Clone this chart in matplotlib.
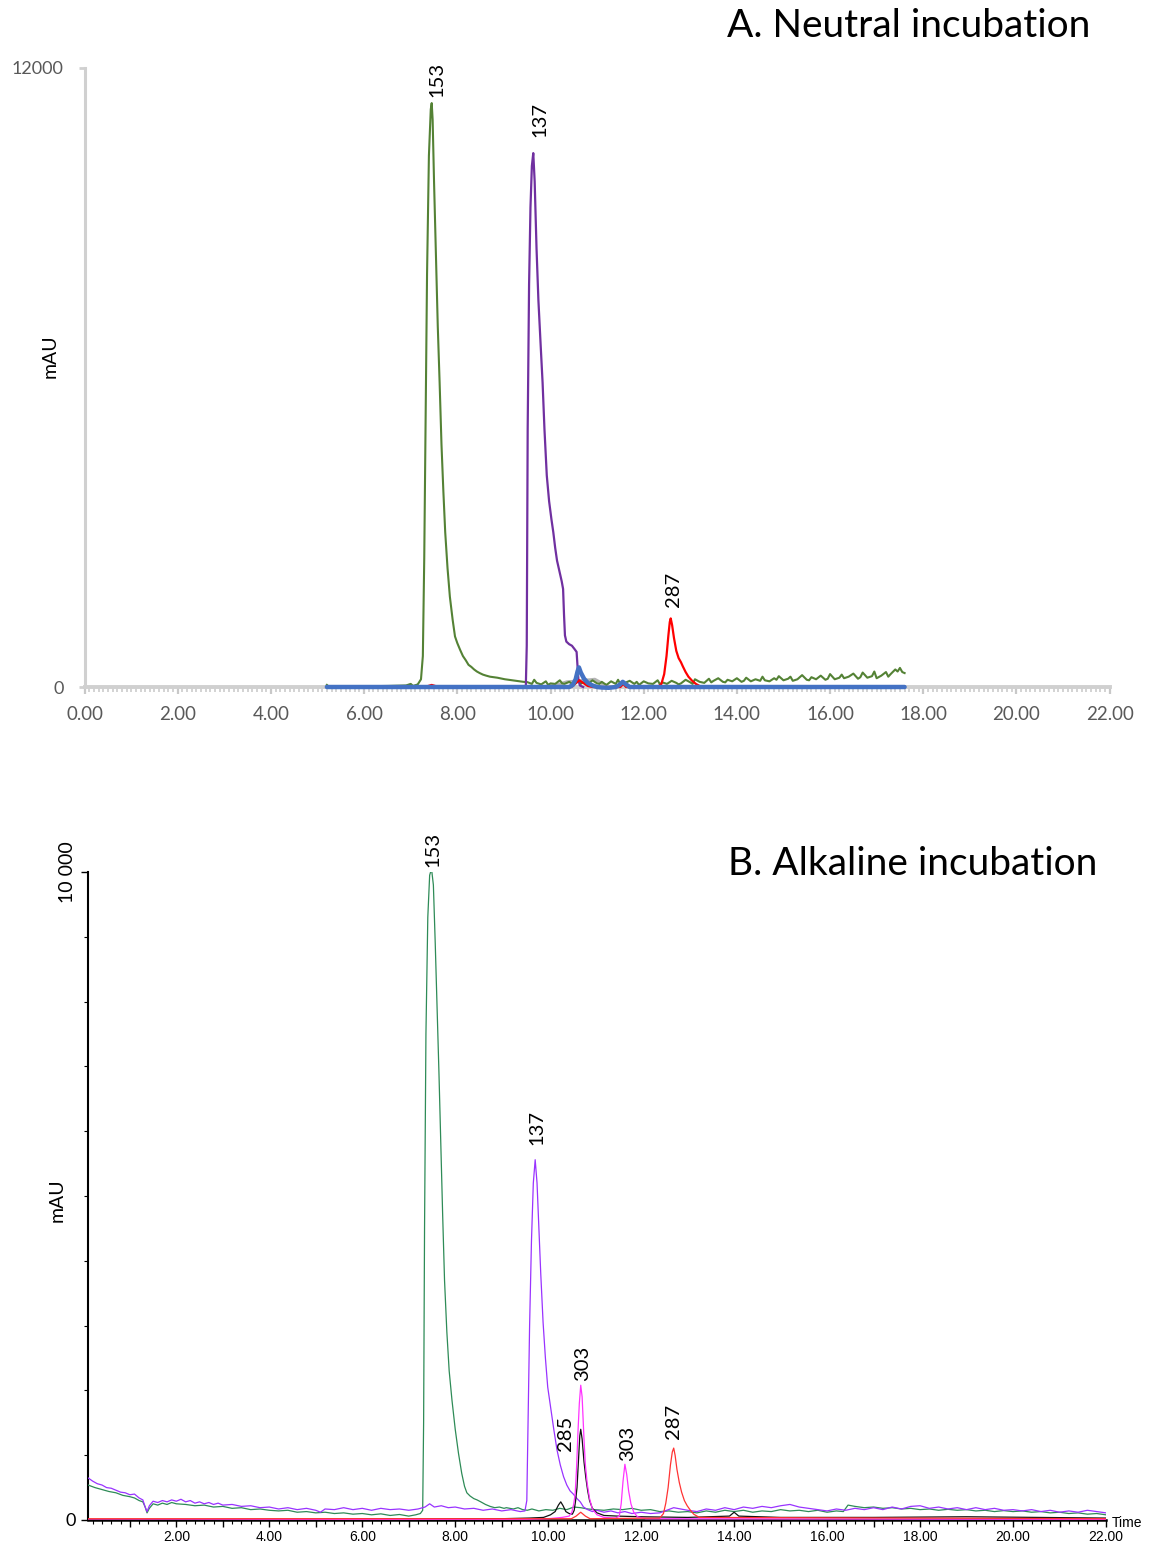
import numpy as np
import matplotlib
matplotlib.use("Agg")
import matplotlib.pyplot as plt
from matplotlib.ticker import MultipleLocator, FixedLocator, FuncFormatter

# ---------------- Panel A: neutral incubation ----------------
a_green_t = [5.20, 5.25, 5.6, 6.0, 6.5, 6.9, 7.0, 7.05, 7.15, 7.22, 7.26, 7.29, 7.32, 7.35, 7.39, 7.43, 7.45,
             7.47, 7.50, 7.54, 7.58, 7.62, 7.66, 7.70, 7.74, 7.79, 7.84, 7.90, 7.95, 8.00, 8.06, 8.12, 8.18,
             8.24, 8.30, 8.36, 8.42, 8.48, 8.55, 8.62, 8.70, 8.78, 8.86, 8.94, 9.02, 9.10, 9.18, 9.26, 9.34,
             9.42, 9.50,
             9.6, 9.65, 9.7, 9.8, 9.9, 9.95, 10.0, 10.1, 10.2, 10.25, 10.3, 10.4, 10.5, 10.6, 10.65, 10.7, 10.8,
             10.9, 11.0, 11.05, 11.1, 11.2, 11.3, 11.4, 11.45, 11.5, 11.6, 11.7, 11.8, 11.85, 11.9, 12.0, 12.1,
             12.2, 12.3, 12.35, 12.4, 12.5, 12.6, 12.7, 12.75, 12.8, 12.9, 13.0, 13.05, 13.1, 13.2, 13.3, 13.4,
             13.45, 13.5, 13.6, 13.7, 13.75, 13.8, 13.9, 14.0, 14.1, 14.15, 14.2, 14.3, 14.4, 14.5, 14.55, 14.6,
             14.7, 14.8, 14.85, 14.9, 15.0, 15.1, 15.15, 15.2, 15.3, 15.4, 15.5, 15.55, 15.6, 15.7, 15.8, 15.9,
             15.95, 16.0, 16.1, 16.2, 16.25, 16.3, 16.4, 16.5, 16.6, 16.65, 16.7, 16.8, 16.9, 16.95, 17.0, 17.1,
             17.2, 17.25, 17.3, 17.4, 17.45, 17.5, 17.55, 17.6]
a_green_v = [40, 0, 10, 15, 20, 30, 60, 20, 50, 150, 600, 2500, 5200, 8000, 10300, 11200, 11320,
             11000, 9800, 8400, 7000, 5900, 4700, 3800, 3000, 2300, 1750, 1300, 980, 850, 720, 600, 520,
             430, 390, 340, 300, 270, 240, 220, 200, 190, 180, 165, 150, 140, 130, 120, 110,
             100, 95,
             60, 140, 80, 50, 110, 40, 70, 60, 130, 70, 60, 100, 40, 120, 60, 90, 50,
             130, 70, 60, 100, 40, 110, 60, 140, 50, 80, 120, 60, 100, 40, 110, 70,
             60, 130, 50, 90, 60, 120, 80, 50, 70, 140, 90, 60, 150, 100, 80, 160,
             90, 120, 170, 100, 90, 140, 110, 170, 100, 120, 180, 110, 150, 120, 200, 130,
             110, 170, 140, 210, 130, 160, 200, 120, 150, 230, 140, 130, 190, 150, 220, 140,
             160, 250, 150, 180, 240, 170, 200, 260, 160, 190, 280, 180, 210, 300, 170, 220,
             290, 200, 250, 340, 300, 370, 290, 270]

a_purple_t = [9.40, 9.47, 9.49, 9.51, 9.54, 9.57, 9.60, 9.63, 9.66, 9.70, 9.74, 9.79, 9.83, 9.87, 9.92,
              9.97, 10.02, 10.06, 10.10, 10.14, 10.19, 10.24, 10.27, 10.29, 10.31, 10.34, 10.40, 10.46,
              10.52, 10.56, 10.58, 10.60, 10.63, 10.70]
a_purple_v = [0, 10, 800, 5000, 7800, 9300, 10100, 10350, 9800, 8500, 7500, 6600, 5900, 5000, 4100,
              3600, 3250, 3000, 2700, 2450, 2250, 2050, 1900, 1400, 1000, 880, 830, 800,
              730, 680, 400, 130, 30, 0]

a_gray_t = [5.2, 9.8, 10.0, 10.2, 10.35, 10.5, 10.7, 10.85, 10.95, 11.05, 11.15, 11.3, 17.6]
a_gray_v = [0, 0, 20, 60, 100, 110, 130, 140, 150, 100, 40, 0, 0]

a_red_t = [5.2, 7.30, 7.45, 7.60, 10.45, 10.55, 10.62, 10.70, 10.80, 10.90, 11.50, 11.56, 11.62, 12.30,
           12.38, 12.44, 12.49, 12.53, 12.56, 12.58, 12.61, 12.65, 12.70, 12.75, 12.80, 12.84, 12.90,
           12.96, 13.04, 13.12, 13.20, 13.30, 17.6]
a_red_v = [0, 0, 40, 0, 0, 80, 130, 80, 20, 0, 0, 60, 0, 0,
           60, 250, 600, 1000, 1260, 1330, 1200, 950, 700, 560, 480, 400, 290,
           200, 120, 60, 20, 0, 0]

a_blue_t = [5.2, 10.40, 10.48, 10.54, 10.58, 10.61, 10.65, 10.72, 10.80, 10.90, 11.00, 11.10, 11.25,
            11.40, 11.48, 11.55, 11.62, 11.70, 17.6]
a_blue_v = [0, 0, 40, 150, 300, 380, 280, 160, 80, 30, 0, -10, -15, 0, 40, 100, 50, 0, 0]

a_xticks = [0, 2, 4, 6, 8, 10, 12, 14, 16, 18, 20, 22]
a_yticks = [0, 12000]
a_labels = ["153", "137", "287"]
a_label_t = [7.56, 9.77, 12.63]
a_label_v = [11770, 11010, 1900]

# ---------------- Panel B: alkaline incubation ----------------
b_green_t = [0.10, 0.25, 0.4, 0.55, 0.7, 0.85, 1.0, 1.1, 1.2, 1.28, 1.33, 1.37, 1.42, 1.5, 1.6, 1.7, 1.8,
             1.9, 2.0, 2.2, 2.4, 2.6, 2.8, 3.0, 3.2, 3.4, 3.6, 3.8, 4.0, 4.2, 4.4, 4.6, 4.8, 5.0, 5.2, 5.4,
             5.6, 5.8, 6.0, 6.2, 6.4, 6.6, 6.8, 7.0, 7.15, 7.25, 7.30, 7.32, 7.34, 7.37, 7.41, 7.45, 7.49,
             7.53, 7.57, 7.61, 7.65, 7.69, 7.73, 7.77, 7.82, 7.87, 7.93, 8.00, 8.07, 8.14, 8.20, 8.25, 8.32,
             8.40, 8.47, 8.55, 8.65, 8.75, 8.85, 8.95, 9.05, 9.10, 9.25, 9.35, 9.45, 9.55, 9.65, 9.8, 9.95,
             10.1, 10.25, 10.4, 10.55, 10.7, 10.85, 11.0, 11.2, 11.4, 11.6, 11.8, 12.0, 12.2, 12.4, 12.6,
             12.8, 13.0, 13.2, 13.4, 13.6, 13.8, 14.0, 14.2, 14.4, 14.6, 14.8, 15.0, 15.2, 15.4, 15.6, 15.8,
             16.0, 16.2, 16.35, 16.45, 16.6, 16.8, 17.0, 17.2, 17.4, 17.6, 17.8, 18.0, 18.2, 18.4, 18.6,
             18.8, 19.0, 19.2, 19.4, 19.6, 19.8, 20.0, 20.2, 20.4, 20.6, 20.8, 21.0, 21.2, 21.4, 21.6, 21.8,
             22.0]
b_green_v = [540, 500, 470, 440, 420, 380, 360, 340, 300, 280, 200, 110, 180, 250, 230, 260, 240,
             270, 250, 240, 220, 230, 200, 210, 180, 190, 160, 170, 150, 140, 150, 120, 130, 110, 120, 100,
             110, 90, 100, 80, 95, 70, 85, 60, 80, 100, 150, 1500, 4500, 7500, 9300, 9950, 10050,
             9800, 8900, 7900, 6900, 5800, 4700, 3700, 2900, 2300, 1850, 1400, 1030, 720, 520, 420, 370,
             330, 310, 280, 240, 210, 190, 200, 180, 190, 170, 190, 160, 150, 170, 140, 160,
             150, 180, 160, 200, 190, 170, 160, 150, 170, 160, 180, 150, 160, 130, 140,
             120, 130, 110, 140, 120, 150, 130, 150, 120, 140, 130, 160, 140, 150, 130, 150,
             120, 140, 130, 230, 210, 190, 200, 180, 190, 170, 180, 160, 170, 150, 165,
             150, 160, 140, 150, 130, 145, 130, 140, 120, 130, 110, 120, 100, 110, 90, 100,
             80]

b_purple_t = [0.10, 0.2, 0.3, 0.4, 0.5, 0.6, 0.7, 0.8, 0.9, 1.0, 1.1, 1.2, 1.28, 1.33, 1.37, 1.42, 1.5, 1.6,
              1.7, 1.8, 1.9, 2.0, 2.1, 2.2, 2.3, 2.4, 2.5, 2.6, 2.7, 2.8, 2.9, 3.0, 3.2, 3.4, 3.6, 3.8, 4.0,
              4.2, 4.4, 4.6, 4.8, 5.0, 5.1, 5.2, 5.4, 5.6, 5.8, 6.0, 6.2, 6.4, 6.6, 6.8, 7.0, 7.2, 7.35, 7.45,
              7.55, 7.7, 7.85, 8.0, 8.2, 8.4, 8.6, 8.8, 9.0, 9.2, 9.4, 9.5, 9.54, 9.57, 9.60, 9.64, 9.68, 9.72,
              9.76, 9.80, 9.84, 9.89, 9.94, 9.99, 10.05, 10.12, 10.19, 10.26, 10.33, 10.40, 10.47, 10.54,
              10.62, 10.69, 10.76, 10.85, 10.95, 11.05, 11.2, 11.35, 11.5, 11.65, 11.8, 12.0, 12.2, 12.4,
              12.55, 12.7, 12.85, 13.0, 13.2, 13.4, 13.6, 13.8, 14.0, 14.2, 14.4, 14.6, 14.8, 15.0, 15.2,
              15.4, 15.6, 15.8, 16.0, 16.2, 16.4, 16.6, 16.8, 17.0, 17.2, 17.4, 17.6, 17.8, 18.0, 18.2, 18.4,
              18.6, 18.8, 19.0, 19.2, 19.4, 19.6, 19.8, 20.0, 20.2, 20.4, 20.6, 20.8, 21.0, 21.2, 21.4, 21.6,
              21.8, 22.0]
b_purple_v = [650, 600, 560, 540, 500, 490, 460, 430, 420, 390, 400, 340, 310, 200, 130, 220, 290, 270,
              300, 280, 310, 290, 320, 280, 300, 260, 280, 250, 270, 240, 260, 230, 240, 210, 220, 190, 200,
              170, 190, 160, 180, 150, 120, 170, 160, 190, 160, 180, 150, 180, 160, 170, 150, 170, 200, 250,
              200, 220, 190, 200, 170, 180, 150, 170, 140, 160, 130, 140, 300, 1600, 3000, 4300, 5200, 5560,
              5200, 4500, 3800, 3050, 2500, 2050, 1750, 1400, 1080, 850, 670, 540, 450, 400,
              330, 280, 200, 160, 130, 150, 120, 140, 110, 130, 100, 120, 100, 110,
              150, 190, 170, 150, 130, 170, 150, 190, 160, 200, 180, 210, 190, 220, 240,
              200, 180, 160, 140, 170, 150, 180, 160, 190, 160, 200, 170, 210, 220, 180, 200,
              170, 190, 160, 190, 160, 180, 150, 160, 140, 160, 130, 150, 120, 140, 120, 150,
              130, 110]

b_black_t = [0.1, 9.0, 9.6, 9.9, 10.05, 10.15, 10.22, 10.27, 10.32, 10.38, 10.45, 10.52, 10.56, 10.59,
             10.62, 10.65, 10.68, 10.70, 10.73, 10.77, 10.81, 10.85, 10.89, 10.95, 11.05, 11.2, 11.5, 12.0,
             13.0, 13.9, 14.0, 14.1, 15.0, 17.0, 19.0, 20.5, 22.0]
b_black_v = [0, 20, 30, 40, 80, 130, 230, 280, 220, 130, 100, 90, 150, 300,
             500, 900, 1300, 1400, 1250, 900, 650, 450, 300, 180, 110, 70, 60, 50,
             40, 60, 120, 60, 40, 40, 50, 40, 30]

b_magenta_t = [0.1, 9.5, 10.0, 10.3, 10.45, 10.51, 10.55, 10.58, 10.61, 10.64, 10.67, 10.70, 10.73, 10.77,
               10.80, 10.84, 10.89, 10.95, 11.05, 11.2, 11.45, 11.53, 11.57, 11.61, 11.65, 11.69, 11.73,
               11.78, 11.84, 11.92, 12.1, 22.0]
b_magenta_v = [0, 10, 20, 40, 60, 120, 250, 400, 800, 1350, 1800, 2080, 1900, 1250,
               850, 560, 330, 170, 80, 40, 30, 60, 250, 600, 860, 700, 450,
               250, 120, 50, 20, 10]

b_red_t = [0.1, 10.5, 10.6, 10.7, 10.8, 10.9, 12.40, 12.48, 12.53, 12.58, 12.63, 12.67, 12.70, 12.73,
           12.77, 12.82, 12.87, 12.93, 12.99, 13.06, 13.13, 13.25, 22.0]
b_red_v = [20, 20, 60, 120, 60, 20, 30, 100, 260, 500, 850, 1050, 1110, 1000,
           780, 580, 430, 300, 220, 150, 90, 40, 20]

b_yticks = [0, 10000]
b_ytick_labels = ["0", "10 000"]
b_labels = ["153", "137", "303", "285", "303", "287"]
b_label_t = [7.51, 9.76, 10.73, 10.37, 11.70, 12.69]
b_label_v = [10354, 6064, 2423, 1342, 1188, 1528]

# ---------------- figure ----------------
W, H = 1155, 1542
fig = plt.figure(figsize=(W / 100, H / 100), dpi=100)
base_font = ["Lato", "DejaVu Sans"]
plt.rcParams["font.family"] = base_font

# Panel A
axA = fig.add_axes([84.6 / W, 1 - 687 / H, (1109.6 - 84.6) / W, (687 - 68) / H])
axA.plot(a_gray_t, a_gray_v, color="#b4b4b4", lw=2.2, zorder=2, clip_on=False)
axA.plot(a_green_t, a_green_v, color="#548235", lw=1.5, zorder=3, clip_on=False)
axA.plot(a_purple_t, a_purple_v, color="#7030A0", lw=1.6, zorder=3, clip_on=False)
axA.plot(a_red_t, a_red_v, color="#FF0000", lw=1.6, zorder=4, clip_on=False)
axA.plot(a_blue_t, a_blue_v, color="#4472C4", lw=3.2, zorder=5, solid_capstyle="round", clip_on=False)
axA.set_xlim(0, 22)
axA.set_ylim(0, 12000)
for s in ["top", "right"]:
    axA.spines[s].set_visible(False)
axA.spines["left"].set_color("#d0d0d0")
axA.spines["left"].set_linewidth(2.2)
axA.spines["bottom"].set_color("#d0d0d0")
axA.spines["bottom"].set_linewidth(2.8)
axA.set_xticks(a_xticks)
axA.xaxis.set_major_formatter(FuncFormatter(lambda v, p: "%.2f" % v))
axA.xaxis.set_minor_locator(MultipleLocator(0.1))
axA.set_yticks(a_yticks)
axA.tick_params(axis="x", which="major", length=5, width=1.6, color="#c8c8c8", pad=9,
                labelsize=13.5, labelcolor="#595959")
axA.tick_params(axis="x", which="minor", length=3.5, width=1.1, color="#c8c8c8")
axA.tick_params(axis="y", which="major", length=4, width=2, color="#d0d0d0", pad=11,
                labelsize=13, labelcolor="#595959")
for lab, t, v in zip(a_labels, a_label_t, a_label_v):
    axA.text(t, v, lab, rotation=90, ha="center", va="center", fontsize=14.5, color="black")
fig.text(1090 / W, 1 - 26 / H, "A. Neutral incubation", ha="right", va="center", fontsize=28)
fig.text(50 / W, 1 - 356 / H, "mAU", rotation=90, ha="center", va="center", fontsize=14)

# Panel B
axB = fig.add_axes([88 / W, 1 - 1520 / H, (1106 - 88) / W, (1520 - 872) / H])
axB.plot(b_green_t, b_green_v, color="#2E8B57", lw=0.9, zorder=3)
axB.plot(b_purple_t, b_purple_v, color="#9933FF", lw=0.9, zorder=3)
axB.plot(b_black_t, b_black_v, color="#111111", lw=0.9, zorder=4)
axB.plot(b_magenta_t, b_magenta_v, color="#FF33FF", lw=0.9, zorder=5)
axB.plot(b_red_t, b_red_v, color="#FF3333", lw=0.9, zorder=5)
axB.set_xlim(0.1, 22)
axB.set_ylim(0, 10000)
for s in ["top", "right"]:
    axB.spines[s].set_visible(False)
axB.spines["left"].set_linewidth(1.5)
axB.spines["bottom"].set_linewidth(1.8)
axB.xaxis.set_major_locator(FixedLocator(list(range(1, 23))))
axB.xaxis.set_major_formatter(FuncFormatter(lambda v, p: ("%.2f" % v) if int(round(v)) % 2 == 0 else ""))
axB.xaxis.set_minor_locator(MultipleLocator(0.2))
axB.tick_params(axis="x", which="major", length=5, width=1, pad=2, labelsize=10)
axB.tick_params(axis="x", which="minor", length=3, width=0.8)
for lab in axB.get_xticklabels():
    lab.set_family(["Liberation Sans Narrow", "Liberation Sans", "DejaVu Sans"])
axB.set_yticks(b_yticks)
axB.set_yticklabels(b_ytick_labels)
axB.yaxis.set_minor_locator(MultipleLocator(1000))
axB.tick_params(axis="y", which="major", length=5, width=1, pad=4, labelsize=13)
axB.tick_params(axis="y", which="minor", length=3, width=0.8)
ylabs = axB.get_yticklabels()
ylabs[1].set_rotation(90)
ylabs[1].set_fontsize(14)
ylabs[1].set_va("center")
for lab, t, v in zip(b_labels, b_label_t, b_label_v):
    axB.text(t, v, lab, rotation=90, ha="center", va="center", fontsize=14.5, color="black")
fig.text(1097 / W, 1 - 864 / H, "B. Alkaline incubation", ha="right", va="center", fontsize=28)
fig.text(57 / W, 1 - 1200 / H, "mAU", rotation=90, ha="center", va="center", fontsize=14)
fig.text(1112 / W, 1 - 1523 / H, "Time", ha="left", va="center", fontsize=10,
         family=["Liberation Sans", "DejaVu Sans"])

fig.savefig("out.png", dpi=100, facecolor="white")
